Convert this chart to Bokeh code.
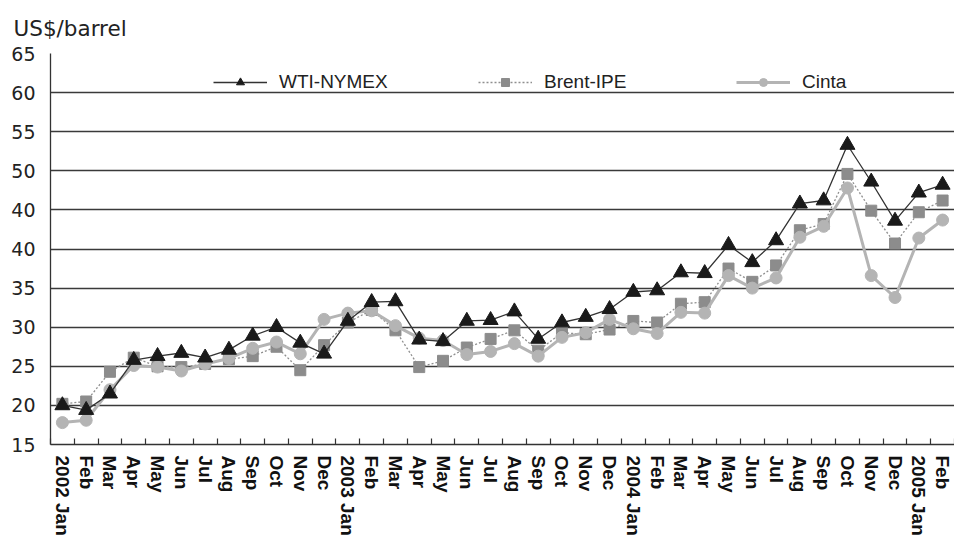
from bokeh.plotting import figure
from bokeh.models import FixedTicker, Legend, LegendItem, Range1d, ColumnDataSource
from bokeh.embed import file_html
from bokeh.resources import INLINE

months = ["2002 Jan", "Feb", "Mar", "Apr", "May", "Jun", "Jul", "Aug", "Sep", "Oct", "Nov", "Dec",
          "2003 Jan", "Feb", "Mar", "Apr", "May", "Jun", "Jul", "Aug", "Sep", "Oct", "Nov", "Dec",
          "2004 Jan", "Feb", "Mar", "Apr", "May", "Jun", "Jul", "Aug", "Sep", "Oct", "Nov", "Dec",
          "2005 Jan", "Feb"]

wti = [20.0, 19.4, 21.5, 25.8, 26.3, 26.7, 26.1, 27.1, 28.9, 30.0, 28.0, 26.6,
       30.8, 33.2, 33.3, 28.4, 28.2, 30.8, 30.9, 32.0, 28.5, 30.6, 31.3, 32.3,
       34.5, 34.7, 37.0, 36.9, 40.5, 38.3, 41.1, 45.8, 46.2, 53.3, 48.6, 43.6,
       47.2, 48.2]

brent = [20.2, 20.5, 24.3, 26.1, 25.0, 24.9, 25.3, 25.9, 26.3, 27.5, 24.5, 27.7,
         30.6, 32.2, 29.6, 24.9, 25.7, 27.4, 28.5, 29.6, 27.0, 29.3, 29.1, 29.7,
         30.8, 30.6, 33.0, 33.2, 37.5, 35.8, 37.9, 42.4, 43.2, 49.6, 44.9, 40.7,
         44.7, 46.2]

cinta = [17.8, 18.1, 22.0, 25.1, 24.9, 24.4, 25.3, 26.0, 27.3, 28.1, 26.6, 31.0,
         31.8, 32.1, 30.2, 28.6, 28.3, 26.5, 26.9, 27.9, 26.3, 28.7, 29.3, 31.0,
         29.8, 29.2, 31.9, 31.8, 36.6, 35.0, 36.3, 41.5, 42.9, 47.8, 36.6, 33.8,
         41.4, 43.7]

y_ticks = [15, 20, 25, 30, 35, 40, 45, 50, 55, 60, 65]
y_tick_labels = ["15", "20", "25", "30", "35", "40", "40", "50", "55", "60", "65"]

series_names = ["WTI-NYMEX", "Brent-IPE", "Cinta"]

x = list(range(len(months)))
src = ColumnDataSource(dict(x=x, wti=wti, brent=brent, cinta=cinta))

p = figure(width=954, height=540, output_backend="svg", toolbar_location=None,
           x_range=Range1d(-0.5, len(months) - 0.5), y_range=Range1d(15, 65),
           min_border_left=50, min_border_right=0, min_border_top=51, min_border_bottom=96)
p.outline_line_color = None
p.background_fill_color = "white"
p.border_fill_color = "white"

# title
p.title.text = "US$/barrel"
p.title.align = "left"
p.title.offset = -37
p.title.standoff = 26
p.title.text_font = "DejaVu Sans"
p.title.text_font_size = "21.5px"
p.title.text_font_style = "normal"
p.title.text_color = "#222222"

# grid
p.xgrid.visible = False
p.ygrid.ticker = FixedTicker(ticks=y_ticks)
p.ygrid.grid_line_color = "#3a3a3a"
p.ygrid.grid_line_width = 1.3

# y axis
p.yaxis.ticker = FixedTicker(ticks=y_ticks)
p.yaxis.major_label_overrides = {t: l for t, l in zip(y_ticks, y_tick_labels)}
p.yaxis.major_tick_line_color = None
p.yaxis.major_tick_in = 0
p.yaxis.major_tick_out = 0
p.yaxis.minor_tick_line_color = None
p.yaxis.minor_tick_in = 0
p.yaxis.minor_tick_out = 0
p.yaxis.axis_line_color = "#333333"
p.yaxis.axis_line_width = 1.3
p.yaxis.major_label_text_font = "DejaVu Sans"
p.yaxis.major_label_text_font_size = "19px"
p.yaxis.major_label_text_color = "#222222"
p.yaxis.major_label_standoff = 15

# x axis
p.xaxis.ticker = FixedTicker(ticks=x, minor_ticks=[i - 0.5 for i in range(len(months) + 1)])
p.xaxis.major_label_overrides = {i: m for i, m in enumerate(months)}
p.xaxis.major_label_orientation = "vertical"
p.xaxis.major_tick_line_color = None
p.xaxis.major_tick_in = 0
p.xaxis.major_tick_out = 0
p.xaxis.minor_tick_in = 6
p.xaxis.minor_tick_out = 0
p.xaxis.minor_tick_line_color = "#333333"
p.xaxis.minor_tick_line_width = 1.2
p.xaxis.axis_line_color = "#333333"
p.xaxis.axis_line_width = 1.3
p.xaxis.major_label_text_font = "Liberation Sans"
p.xaxis.major_label_text_font_style = "bold"
p.xaxis.major_label_text_font_size = "19px"
p.xaxis.major_label_text_color = "#111111"
p.xaxis.major_label_standoff = 11

# series
b_line = p.line("x", "brent", source=src, line_color="#8f8f8f", line_dash="2 2", line_width=1.3)
b_pts = p.scatter("x", "brent", source=src, marker="square", size=11,
                  fill_color="#8c8c8c", line_color="#8c8c8c")
c_line = p.line("x", "cinta", source=src, line_color="#b4b4b4", line_width=3)
c_pts = p.scatter("x", "cinta", source=src, marker="circle", size=12,
                  fill_color="#b4b4b4", line_color="#b4b4b4")
w_line = p.line("x", "wti", source=src, line_color="#333333", line_width=1.3)
w_pts = p.scatter("x", "wti", source=src, marker="triangle", size=15,
                  fill_color="#1a1a1a", line_color="#1a1a1a")

legend_specs = [
    (series_names[0], [w_line, w_pts], (163, 351)),
    (series_names[1], [b_line, b_pts], (428, 351)),
    (series_names[2], [c_line, c_pts], (686, 351)),
]
for name, rends, loc in legend_specs:
    leg = Legend(items=[LegendItem(label=name, renderers=rends)], location=loc,
                 orientation="horizontal", glyph_width=54, glyph_height=20,
                 label_standoff=12, padding=0, margin=0, border_line_color=None,
                 background_fill_alpha=0, label_text_font="Liberation Sans",
                 label_text_font_size="19px", label_text_color="#222222")
    p.add_layout(leg, "center")

open("out.html", "w").write(file_html(p, INLINE))
